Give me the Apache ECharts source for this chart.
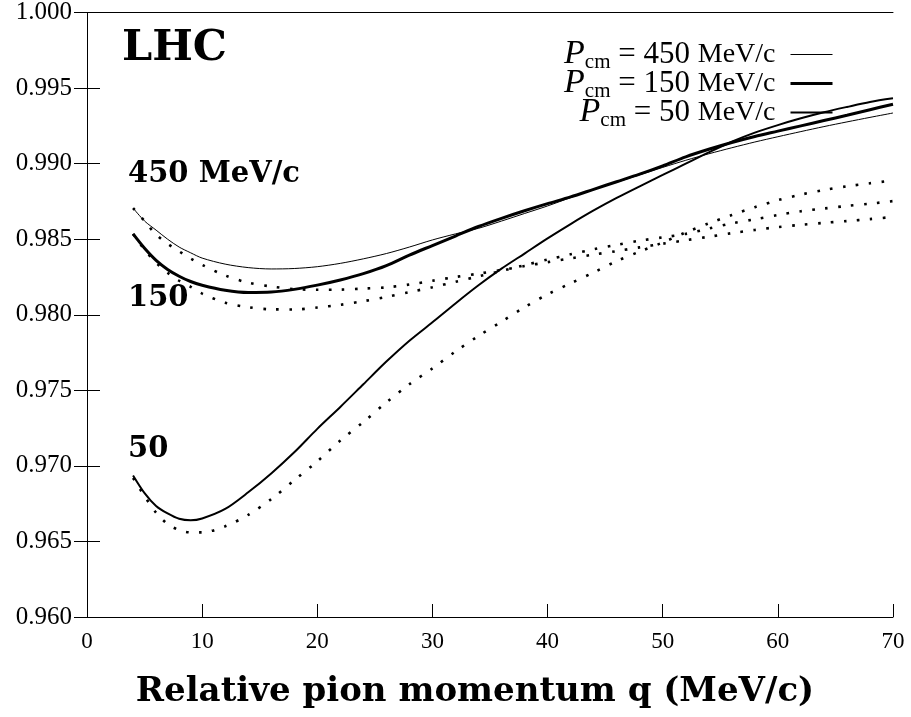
<!DOCTYPE html>
<html>
<head>
<meta charset="utf-8">
<script src="https://cdn.jsdelivr.net/npm/echarts@6/dist/echarts.min.js"></script>
<style>
  html, body { margin: 0; padding: 0; background: #fff; }
  #main { width: 911px; height: 717px; }
</style>
</head>
<body>
<div id="main"></div>
<script>
// q grid (MeV/c)
var qValues = [4, 5, 6, 7, 8, 9, 10, 12, 14, 16, 18, 20, 22, 24, 26, 28, 30, 32, 34, 36,
  38, 40, 42, 44, 46, 48, 50, 52, 54, 56, 58, 60, 62, 64, 66, 68, 70];

// solid curves
var solid450 = [.98706, .98620, .98560, .98500, .98448, .98410, .98375, .98335, .98312, .98303, .98306, .98318, .98340, .98370, .98405, .98448, .98495, .98535, .98572, .98620,
  .98670, .98720, .98775, .98828, .98877, .98926, .98975, .99022, .99065, .99105, .99143, .99178, .99212, .99245, .99276, .99306, .99335];
var solid150 = [.98535, .98440, .98360, .98300, .98255, .98220, .98195, .98162, .98147, .98150, .98168, .98196, .98230, .98272, .98325, .98395, .98458, .98521, .98584, .98638,
  .98688, .98735, .98780, .98830, .98880, .98930, .98985, .99045, .99095, .99140, .99180, .99215, .99250, .99285, .99320, .99357, .99393];
var solid50 = [.96937, .96820, .96735, .96685, .96650, .96640, .96652, .96715, .96825, .96950, .97090, .97245, .97390, .97540, .97690, .97828, .97950, .98075, .98195, .98305,
  .98405, .98505, .98600, .98690, .98773, .98850, .98925, .99000, .99075, .99145, .99205, .99255, .99300, .99340, .99375, .99408, .99432];

// dotted curves
var dotted450 = [.98706, .98620, .98530, .98470, .98420, .98372, .98330, .98260, .98212, .98187, .98170, .98165, .98166, .98173, .98181, .98200, .98225, .98250, .98272, .98296,
  .98322, .98348, .98373, .98398, .98421, .98446, .98470, .98493, .98516, .98540, .98561, .98580, .98595, .98608, .98620, .98633, .98647];
var dotted150 = [.98535, .98430, .98345, .98278, .98225, .98185, .98140, .98080, .98050, .98036, .98035, .98048, .98066, .98090, .98118, .98150, .98182, .98218, .98254, .98290,
  .98328, .98365, .98400, .98433, .98462, .98490, .98512, .98535, .98570, .98605, .98632, .98660, .98685, .98703, .98720, .98735, .98752];
var dotted50 = [.96920, .96800, .96690, .96615, .96575, .96560, .96560, .96600, .96676, .96780, .96905, .97030, .97168, .97290, .97420, .97540, .97645, .97757, .97860, .97954,
  .98050, .98135, .98208, .98280, .98355, .98418, .98478, .98545, .98605, .98660, .98712, .98758, .98795, .98825, .98850, .98870, .98888];

var legendNames = ['450', '150', '50'];
var lineWidths = [1, 3, 2];

function pairs(ys) {
  return qValues.map(function (q, i) { return [q, ys[i]]; });
}

var serif = 'DejaVu Serif';
var chart = echarts.init(document.getElementById('main'));

function solidSeries(name, ys, w) {
  return {
    name: name, type: 'line', data: pairs(ys),
    symbol: 'none', smooth: 0.3,
    lineStyle: { color: '#000', width: w },
    itemStyle: { color: '#000' },
    z: 3
  };
}
function dotSeries(name, ys) {
  return {
    name: name, type: 'line', data: pairs(ys),
    symbol: 'none', smooth: 0.3,
    lineStyle: { color: '#000', width: 2.6, type: [2.6, 10.4], cap: 'butt' },
    z: 2
  };
}

var option = {
  backgroundColor: '#fff',
  animation: false,
  grid: { left: 87, right: 18, top: 11, bottom: 100 },
  xAxis: [{
    type: 'value', min: 0, max: 70, interval: 10,
    name: 'Relative pion momentum q (MeV/c)',
    nameLocation: 'middle', nameGap: 58,
    nameTextStyle: { fontFamily: serif, fontWeight: 'bold', fontSize: 34, color: '#000', padding: [0, 30, 0, 0] },
    axisLine: { lineStyle: { color: '#000', width: 1 } },
    axisTick: { inside: true, length: 13, lineStyle: { color: '#000' } },
    axisLabel: { margin: 13, fontFamily: 'Liberation Serif', fontSize: 23, color: '#000' },
    splitLine: { show: false }
  }, {
    type: 'value', min: 0, max: 70, position: 'top',
    axisLine: { show: true, lineStyle: { color: '#000', width: 1 } },
    axisTick: { show: false }, axisLabel: { show: false }, splitLine: { show: false }
  }],
  yAxis: [{
    type: 'value', min: 0.96, max: 1.0, interval: 0.005,
    axisLine: { show: true, lineStyle: { color: '#000', width: 1 } },
    axisTick: { inside: true, length: 13, lineStyle: { color: '#000' } },
    axisLabel: {
      margin: 15, fontFamily: 'Liberation Serif', fontSize: 25, color: '#000',
      formatter: function (v) { return v.toFixed(3); }
    },
    splitLine: { show: false }
  }, {
    type: 'value', min: 0.96, max: 1.0, interval: 0.005, position: 'right',
    axisLine: { show: true, lineStyle: { color: '#000', width: 1 } },
    axisTick: { inside: true, length: 13, lineStyle: { color: '#000' } },
    axisLabel: { show: false }, splitLine: { show: false }
  }],
  legend: {
    data: legendNames.map(function (n, i) {
      return { name: n, lineStyle: { width: lineWidths[i], color: '#000' } };
    }),
    orient: 'vertical', align: 'right',
    right: 72, top: 31, itemGap: -8,
    itemWidth: 42, itemHeight: 14,
    itemStyle: { opacity: 0 },
    formatter: function (name) {
      return '{p|P}{s|cm}{t| = ' + name + ' }{u|MeV/c}';
    },
    textStyle: {
      color: '#000', fontFamily: 'Liberation Serif', fontSize: 31,
      rich: {
        p: { fontFamily: 'Liberation Serif', fontStyle: 'italic', fontSize: 34, lineHeight: 28 },
        s: { fontFamily: 'Liberation Serif', fontSize: 21, lineHeight: 12, padding: [16, 0, 0, 0] },
        t: { fontFamily: 'Liberation Serif', fontSize: 31, lineHeight: 28 },
        u: { fontFamily: 'Liberation Serif', fontSize: 28, lineHeight: 28, padding: [0, 10, 0, 0] }
      }
    }
  },
  graphic: [
    { type: 'text', left: 122, top: 27, style: { text: 'LHC', font: 'bold 43px "DejaVu Serif"', fill: '#000' } },
    { type: 'text', left: 128, top: 160, style: { text: '450 MeV/c', font: 'bold 29px "DejaVu Serif"', fill: '#000' } },
    { type: 'text', left: 128, top: 284, style: { text: '150', font: 'bold 29px "DejaVu Serif"', fill: '#000' } },
    { type: 'text', left: 128, top: 435, style: { text: '50', font: 'bold 29px "DejaVu Serif"', fill: '#000' } }
  ],
  series: [
    solidSeries('450', solid450, lineWidths[0]),
    solidSeries('150', solid150, lineWidths[1]),
    solidSeries('50', solid50, lineWidths[2]),
    dotSeries('450 dotted', dotted450),
    dotSeries('150 dotted', dotted150),
    dotSeries('50 dotted', dotted50)
  ]
};
chart.setOption(option);
</script>
</body>
</html>
